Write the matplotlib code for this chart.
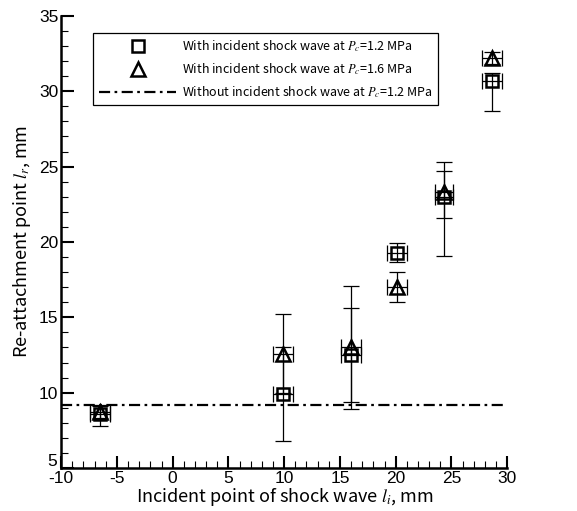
import matplotlib
matplotlib.use("Agg")
import matplotlib.pyplot as plt
from matplotlib.lines import Line2D
from matplotlib.ticker import MultipleLocator, FuncFormatter

plt.rcParams['font.family'] = ['Liberation Sans', 'DejaVu Sans']
plt.rcParams['mathtext.fontset'] = 'stix'
plt.rcParams['axes.unicode_minus'] = False

# Incident point of the shock wave, mm
li = [-6.5, 9.9, 16.0, 20.1, 24.3, 28.6]
li_err = [0.9, 0.9, 0.9, 0.9, 0.8, 0.9]

# Re-attachment point at Pc = 1.2 MPa
lr_12 = [8.6, 9.9, 12.5, 19.3, 23.0, 30.7]
lr_12_lo = [0.8, 3.1, 3.1, 0.65, 1.4, 2.0]
lr_12_hi = [0.6, 3.1, 3.1, 0.65, 1.7, 0.5]

# Re-attachment point at Pc = 1.6 MPa
lr_16 = [8.7, 12.6, 13.0, 17.0, 23.3, 32.2]
lr_16_lo = [0.4, 2.6, 4.1, 1.0, 4.2, 0.4]
lr_16_hi = [0.4, 2.6, 4.1, 1.0, 2.0, 0.4]

# Re-attachment point without incident shock at Pc = 1.2 MPa
lr_no_shock = 9.2

# Axis ranges
x_range = (-10, 30)
y_range = (5, 35)

label_font = ['Noto Sans CJK JP', 'DejaVu Sans']
sq_style = dict(marker='s', markersize=8.5, mfc='none', mec='black', mew=1.8)
tri_style = dict(marker='^', markersize=9.5, mfc='none', mec='black', mew=1.8)
dashdot = [5, 2, 1.2, 2]

fig = plt.figure(figsize=(5.77, 5.11), dpi=100)
ax = fig.add_axes([0.106, 0.084, 0.773, 0.885])

ebkw = dict(fmt='none', ecolor='black', elinewidth=0.9, capsize=6, capthick=0.9, zorder=2)
ax.errorbar(li, lr_12, yerr=[lr_12_lo, lr_12_hi], xerr=li_err, **ebkw)
ax.errorbar(li, lr_16, yerr=[lr_16_lo, lr_16_hi], xerr=li_err, **ebkw)

ax.plot(li, lr_12, linestyle='none', zorder=3, **sq_style)
ax.plot(li, lr_16, linestyle='none', zorder=3, **tri_style)

ax.axhline(lr_no_shock, color='black', linewidth=1.6, dashes=dashdot, zorder=1)

ax.set_xlim(*x_range)
ax.set_ylim(*y_range)
ax.xaxis.set_major_locator(MultipleLocator(5))
ax.xaxis.set_minor_locator(MultipleLocator(1))
ax.yaxis.set_major_locator(MultipleLocator(5))
ax.yaxis.set_minor_locator(MultipleLocator(1))

# the lowest y label is drawn separately, lifted above the axis corner
ymin = y_range[0]
ax.yaxis.set_major_formatter(FuncFormatter(lambda v, pos: '' if v == ymin else f'{v:g}'))
ax.annotate(f'{ymin:g}', xy=(0, ymin), xycoords=ax.get_yaxis_transform(),
            xytext=(-3, -1), textcoords='offset points', ha='right', va='bottom',
            fontsize=12.5, annotation_clip=False)

for side in ('top', 'right'):
    ax.spines[side].set_visible(False)
for side in ('left', 'bottom'):
    ax.spines[side].set_linewidth(1.8)

ax.tick_params(which='major', direction='in', length=9, width=1.5, labelsize=12.5, pad=2)
ax.tick_params(which='minor', direction='in', length=5, width=0.8)

ax.set_xlabel(r'Incident point of shock wave $l_i$, mm', fontsize=13,
              family=label_font, labelpad=0)
ax.set_ylabel(r'Re-attachment point $l_r$, mm', fontsize=13,
              family=label_font, labelpad=4)

handles = [
    Line2D([], [], linestyle='none', **sq_style),
    Line2D([], [], linestyle='none', **tri_style),
    Line2D([], [], color='black', linewidth=1.6, dashes=dashdot),
]
labels = [
    r'With incident shock wave at $P_c$=1.2 MPa',
    r'With incident shock wave at $P_c$=1.6 MPa',
    r'Without incident shock wave at $P_c$=1.2 MPa',
]
leg = ax.legend(handles, labels, loc='upper left', bbox_to_anchor=(0.072, 0.962),
                prop={'family': label_font, 'size': 9}, handlelength=6.2,
                handletextpad=0.45, borderpad=0.45, borderaxespad=0, labelspacing=0.55,
                fancybox=False, framealpha=1, edgecolor='black')
leg.get_frame().set_linewidth(0.9)

fig.savefig('out.png', dpi=100)
